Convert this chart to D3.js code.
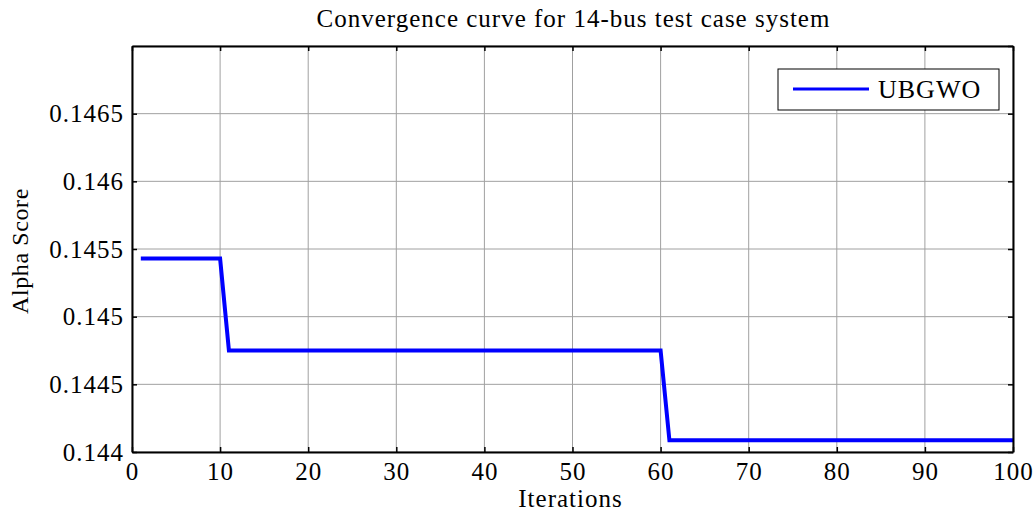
<!DOCTYPE html>
<html><head><meta charset="utf-8">
<script src="https://cdn.jsdelivr.net/npm/d3@7/dist/d3.min.js"></script>
<style>
html,body{margin:0;padding:0;background:#fff;}
text{font-family:"Liberation Serif","Times New Roman",serif;fill:#000;}
</style></head>
<body>
<svg id="chart" width="1036" height="513"></svg>
<script>
// Data (step points of the convergence curve)
const iterations = [1, 10, 11, 60, 61, 100];
const alphaScore = [0.14543, 0.14543, 0.14475, 0.14475, 0.144086, 0.144086];
const xTicks = [0, 10, 20, 30, 40, 50, 60, 70, 80, 90, 100];
const yTicks = [0.144, 0.1445, 0.145, 0.1455, 0.146, 0.1465];
const yGrid = [0.144, 0.1445, 0.145, 0.1455, 0.146, 0.1465, 0.147];
const yTickLabels = ["0.144", "0.1445", "0.145", "0.1455", "0.146", "0.1465"];
const seriesName = "UBGWO";
const chartTitle = "Convergence curve for 14-bus test case system";

const svg = d3.select("#chart");
const L = 132, R = 1013, T = 46, B = 452;
const x = d3.scaleLinear().domain([0, 100]).range([L, R]);
const y = d3.scaleLinear().domain([0.144, 0.147]).range([B, T]);

// grid
const g = svg.append("g");
g.selectAll(".vg").data(xTicks).join("line")
  .attr("x1", d => x(d)).attr("x2", d => x(d)).attr("y1", T).attr("y2", B)
  .attr("stroke", "#a0a0a0").attr("stroke-width", 1);
g.selectAll(".hg").data(yGrid).join("line")
  .attr("y1", d => y(d)).attr("y2", d => y(d)).attr("x1", L).attr("x2", R)
  .attr("stroke", "#a0a0a0").attr("stroke-width", 1);

// line
const line = d3.line().x((d, i) => x(iterations[i])).y(d => y(d));
svg.append("path").datum(alphaScore).attr("d", line)
  .attr("fill", "none").attr("stroke", "#0000ff").attr("stroke-width", 4)
  .attr("stroke-linejoin", "miter");

// axes (inward ticks, MATLAB-style box)
const tl = 5;
const axBottom = svg.append("g").attr("transform", `translate(0,${B})`)
  .call(d3.axisBottom(x).tickValues(xTicks).tickSizeInner(-tl).tickSizeOuter(0).tickFormat(d3.format("d")));
const axTop = svg.append("g").attr("transform", `translate(0,${T})`)
  .call(d3.axisTop(x).tickValues(xTicks).tickSizeInner(-tl).tickSizeOuter(0).tickFormat(""));
const axLeft = svg.append("g").attr("transform", `translate(${L},0)`)
  .call(d3.axisLeft(y).tickValues(yTicks).tickSizeInner(-tl).tickSizeOuter(0).tickPadding(8).tickFormat((d, i) => yTickLabels[i]));
const axRight = svg.append("g").attr("transform", `translate(${R},0)`)
  .call(d3.axisRight(y).tickValues(yGrid).tickSizeInner(-tl).tickSizeOuter(0).tickFormat(""));
[axBottom, axTop, axLeft, axRight].forEach(a => {
  a.select(".domain").attr("stroke", "#000").attr("stroke-width", 2);
  a.selectAll(".tick line").attr("stroke", "#000").attr("stroke-width", 1.5);
  a.selectAll("text").style("font-size", "25px").style("letter-spacing", "1px")
    .style("font-family", "'Liberation Serif', serif").attr("fill", "#000");
});
axBottom.selectAll("text").attr("y", 28).attr("dy", 0);
axLeft.selectAll("text").attr("dy", "0.32em");

// title and labels
svg.append("text").attr("x", (L + R) / 2 + 1).attr("y", 27).attr("text-anchor", "middle")
  .style("font-size", "25px").style("letter-spacing", "1px").text(chartTitle);
svg.append("text").attr("x", (L + R) / 2 - 2).attr("y", 507).attr("text-anchor", "middle")
  .style("font-size", "25px").style("letter-spacing", "1px").text("Iterations");
svg.append("text").attr("transform", `translate(28,251) rotate(-90)`).attr("text-anchor", "middle")
  .style("font-size", "24px").style("letter-spacing", "0.6px").text("Alpha Score");

// legend
const lg = svg.append("g");
lg.append("rect").attr("x", 778).attr("y", 69).attr("width", 221).attr("height", 41)
  .attr("fill", "#fff").attr("stroke", "#000").attr("stroke-width", 1);
lg.append("line").attr("x1", 793).attr("x2", 869).attr("y1", 89).attr("y2", 89)
  .attr("stroke", "#0000ff").attr("stroke-width", 3);
lg.append("text").attr("x", 878).attr("y", 98)
  .style("font-size", "26px").style("letter-spacing", "1px").text(seriesName);
</script>
</body></html>
